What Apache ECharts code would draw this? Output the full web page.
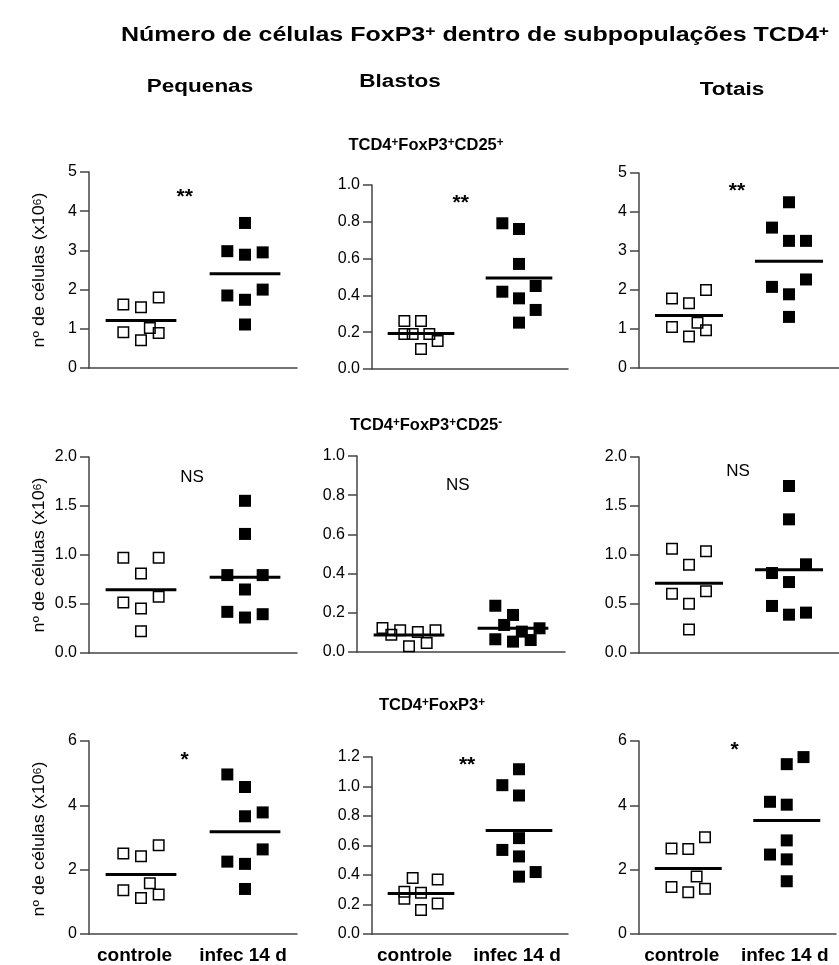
<!DOCTYPE html>
<html><head><meta charset="utf-8">
<script src="https://cdn.jsdelivr.net/npm/echarts@6/dist/echarts.min.js"></script>
<style>html,body{margin:0;padding:0;background:#fff}#c{width:839px;height:965px}</style>
</head><body><div id="c"></div>
<script>
// ---------- text ----------
const categories = ['controle', 'infec 14 d'];
const columnTitles = ['Pequenas', 'Blastos', 'Totais'];
const mainTitle = 'Número de células FoxP3{sup|+} dentro de subpopulações TCD4{sup|+}';
const rowTitles = ['TCD4{sup|+}FoxP3{sup|+}CD25{sup|+}', 'TCD4{sup|+}FoxP3{sup|+}CD25{sup|-}', 'TCD4{sup|+}FoxP3{sup|+}'];
const yAxisName = 'nº de células (x10{sup|6})';
const sigLabels = ['**', '**', '**', 'NS', 'NS', 'NS', '*', '**', '*'];

// ---------- values (x10^6 cells) ----------
const pequenasCD25posControle = [1.62, 1.55, 1.80, 0.91, 1.02, 0.89, 0.71];
const pequenasCD25posInfec    = [3.70, 2.98, 2.89, 2.95, 1.85, 1.74, 2.00, 1.11];
const blastosCD25posControle  = [0.261, 0.261, 0.19, 0.19, 0.19, 0.152, 0.109];
const blastosCD25posInfec     = [0.792, 0.761, 0.571, 0.420, 0.451, 0.384, 0.321, 0.252];
const totaisCD25posControle   = [1.78, 1.66, 2.00, 1.05, 1.16, 0.97, 0.81];
const totaisCD25posInfec      = [4.25, 3.60, 3.26, 3.26, 2.08, 1.89, 2.27, 1.31];

const pequenasCD25negControle = [0.973, 0.973, 0.812, 0.515, 0.573, 0.454, 0.222];
const pequenasCD25negInfec    = [1.553, 1.215, 0.795, 0.795, 0.648, 0.420, 0.362, 0.396];
const blastosCD25negControle  = [0.122, 0.088, 0.111, 0.102, 0.111, 0.029, 0.046];
const blastosCD25negInfec     = [0.236, 0.189, 0.138, 0.104, 0.121, 0.065, 0.053, 0.061];
const totaisCD25negControle   = [1.065, 1.037, 0.901, 0.605, 0.629, 0.503, 0.241];
const totaisCD25negInfec      = [1.704, 1.364, 0.816, 0.905, 0.724, 0.480, 0.391, 0.412];

const pequenasFoxP3Controle   = [2.50, 2.42, 2.76, 1.36, 1.58, 1.23, 1.12];
const pequenasFoxP3Infec      = [4.96, 4.57, 3.66, 3.78, 2.63, 2.25, 2.18, 1.40];
const blastosFoxP3Controle    = [0.380, 0.370, 0.287, 0.280, 0.239, 0.207, 0.163];
const blastosFoxP3Infec       = [1.117, 1.009, 0.939, 0.650, 0.570, 0.526, 0.389, 0.42];
const totaisFoxP3Controle     = [2.66, 2.64, 3.01, 1.46, 1.79, 1.41, 1.30];
const totaisFoxP3Infec        = [5.28, 5.50, 4.11, 4.02, 2.91, 2.47, 2.32, 1.64];

// horizontal scatter slot of each point (beeswarm column index around the group centre)
const slotsP1c = [-1, 0, 1, -1, 0.5, 1, 0],       slotsP1i = [0, -1, 0, 1, -1, 0, 1, 0];
const slotsP2c = [-1, 0, -1, -0.5, 0.5, 1, 0],    slotsP2i = [-1, 0, 0, -1, 1, 0, 1, 0];
const slotsP3c = [-1, 0, 1, -1, 0.5, 1, 0],       slotsP3i = [0, -1, 0, 1, -1, 0, 1, 0];
const slotsP4c = [-1, 1, 0, -1, 1, 0, 0],         slotsP4i = [0, 0, -1, 1, 0, -1, 0, 1];
const slotsP5c = [-1.5, -1, -0.5, 0.5, 1.5, 0, 1], slotsP5i = [-1, 0, -0.5, 0.5, 1.5, -1, 0, 1];
const slotsP6c = [-1, 1, 0, -1, 1, 0, 0],         slotsP6i = [0, 0, -1, 1, 0, -1, 0, 1];
const slotsP7c = [-1, 0, 1, -1, 0.5, 1, 0],       slotsP7i = [-1, 0, 0, 1, 1, -1, 0, 0];
const slotsP8c = [-0.5, 1, -1, 0, -1, 1, 0],      slotsP8i = [0, -1, 0, 0, -1, 0, 0, 1];
const slotsP9c = [-1, 0, 1, -1, 0.5, 1, 0],       slotsP9i = [0, 1, -1, 0, 0, -1, 0, 0];

// y axis ranges
const yMaxes     = [5, 1.0, 5, 2.0, 1.0, 2.0, 6, 1.2, 6];
const yIntervals = [1, 0.2, 1, 0.5, 0.2, 0.5, 2, 0.2, 2];
const yDecimals  = [0, 1, 0, 1, 1, 1, 0, 1, 0];

const panelData = [
  [pequenasCD25posControle, slotsP1c, pequenasCD25posInfec, slotsP1i],
  [blastosCD25posControle, slotsP2c, blastosCD25posInfec, slotsP2i],
  [totaisCD25posControle, slotsP3c, totaisCD25posInfec, slotsP3i],
  [pequenasCD25negControle, slotsP4c, pequenasCD25negInfec, slotsP4i],
  [blastosCD25negControle, slotsP5c, blastosCD25negInfec, slotsP5i],
  [totaisCD25negControle, slotsP6c, totaisCD25negInfec, slotsP6i],
  [pequenasFoxP3Controle, slotsP7c, pequenasFoxP3Infec, slotsP7i],
  [blastosFoxP3Controle, slotsP8c, blastosFoxP3Infec, slotsP8i],
  [totaisFoxP3Controle, slotsP9c, totaisFoxP3Infec, slotsP9i]
];

// ---------- layout ----------
const FONT = "'Liberation Sans', Arial, sans-serif";
const grids = [
  {left: 89,  top: 172, width: 208, height: 196},
  {left: 372, top: 185, width: 196, height: 184},
  {left: 639, top: 173, width: 207, height: 195},
  {left: 89,  top: 457, width: 208, height: 196},
  {left: 357, top: 456, width: 208, height: 196},
  {left: 639, top: 457, width: 207, height: 196},
  {left: 89,  top: 741, width: 208, height: 196},
  {left: 372, top: 757, width: 196, height: 184},
  {left: 639, top: 741, width: 207, height: 196}
];
const sigAnchor = [[0.92, 4.49], [0.905, 0.93], [0.98, 4.67], [0.99, 1.79], [0.97, 0.85], [0.99, 1.85], [0.92, 5.57], [0.97, 1.18], [0.97, 5.88]];
const SLOT = 0.17, HALF = 0.34;
const centres = [0.5, 1.5];
const mean = a => a.reduce((s, v) => s + v, 0) / a.length;

const xAxes = [], yAxes = [], series = [];
grids.forEach((g, i) => {
  const bottomRow = i >= 6;
  xAxes.push({
    gridIndex: i, type: 'value', min: 0, max: 2, interval: 0.5,
    axisLine: {show: true, lineStyle: {color: '#444', width: 1.5}},
    axisTick: {show: false}, splitLine: {show: false},
    axisLabel: {
      show: bottomRow, margin: 12, color: '#000', fontFamily: FONT, fontSize: 19, fontWeight: 'bold',
      formatter: v => v === centres[0] ? '{a|' + categories[0] + '}' : (v === centres[1] ? '{b|' + categories[1] + '}' : ''),
      rich: {
        a: {fontFamily: FONT, fontSize: 19, fontWeight: 'bold', color: '#000', padding: [0, 13, 0, 0]},
        b: {fontFamily: FONT, fontSize: 19, fontWeight: 'bold', color: '#000', padding: [0, 4, 0, 0]}
      }
    }
  });
  yAxes.push({
    gridIndex: i, type: 'value', min: 0, max: yMaxes[i], interval: yIntervals[i],
    axisLine: {show: true, lineStyle: {color: '#444', width: 1.5}},
    axisTick: {show: true, length: 9, lineStyle: {color: '#444', width: 1.5}},
    splitLine: {show: false},
    axisLabel: {margin: 12, color: '#000', fontFamily: FONT, fontSize: 16, formatter: v => v.toFixed(yDecimals[i])}
  });
  const [c, cs, inf, is] = panelData[i];
  [[c, cs, 0], [inf, is, 1]].forEach(([vals, slots, gi]) => {
    const m = mean(vals);
    series.push({
      type: 'line', xAxisIndex: i, yAxisIndex: i, z: 2, silent: true, symbol: 'none',
      lineStyle: {color: '#000', width: 3, opacity: 1},
      data: [[centres[gi] - HALF, m], [centres[gi] + HALF, m]]
    });
    series.push({
      type: 'scatter', xAxisIndex: i, yAxisIndex: i, z: 3, symbol: 'rect',
      symbolSize: gi === 0 ? 10.5 : 12,
      itemStyle: gi === 0
        ? {color: 'rgba(0,0,0,0)', borderColor: '#000', borderWidth: 1.5, opacity: 1}
        : {color: '#000', opacity: 1},
      data: vals.map((v, k) => [centres[gi] + slots[k] * SLOT, v])
    });
  });
});

const chart = echarts.init(document.getElementById('c'), null, {renderer: 'canvas'});
chart.setOption({
  animation: false, backgroundColor: '#fff',
  grid: grids.map(g => Object.assign({containLabel: false}, g)),
  xAxis: xAxes, yAxis: yAxes, series: series
});

// ---------- free texts ----------
function txt(text, x, y, size, bold, opts) {
  opts = opts || {};
  return {
    type: 'text', x: x, y: y, rotation: opts.rotation || 0,
    scaleX: opts.scaleX || 1, scaleY: 1, silent: true, z: 10,
    style: {
      text: text, fill: '#000', fontFamily: FONT, fontSize: size, fontWeight: bold ? 'bold' : 'normal',
      align: 'center', verticalAlign: 'middle',
      rich: {sup: {fontSize: Math.round(size * 0.7), fontWeight: bold ? 'bold' : 'normal', fontFamily: FONT, verticalAlign: 'top', fill: '#000'}}
    }
  };
}
const graphics = [];
graphics.push(txt(mainTitle, 475, 35, 20, true, {scaleX: 1.25}));
graphics.push(txt(columnTitles[0], 200, 87, 18, true, {scaleX: 1.25}));
graphics.push(txt(columnTitles[1], 400, 82, 18, true, {scaleX: 1.25}));
graphics.push(txt(columnTitles[2], 732, 90, 18, true, {scaleX: 1.25}));
graphics.push(txt(rowTitles[0], 426, 145, 17, true, {scaleX: 0.97}));
graphics.push(txt(rowTitles[1], 426, 425, 17, true, {scaleX: 0.97}));
graphics.push(txt(rowTitles[2], 432, 705, 17, true, {scaleX: 0.97}));
[0, 3, 6].forEach(i => {
  const g = grids[i];
  graphics.push(txt(yAxisName, 40, g.top + g.height / 2, 16, false, {rotation: Math.PI / 2, scaleX: 1.12}));
});
sigLabels.forEach((s, i) => {
  const p = chart.convertToPixel({gridIndex: i}, sigAnchor[i]);
  const star = s.indexOf('*') >= 0;
  graphics.push(txt(s, p[0], p[1] + (star ? 5 : 0), star ? 21 : 17, star, {}));
});
chart.setOption({graphic: graphics});
</script></body></html>
